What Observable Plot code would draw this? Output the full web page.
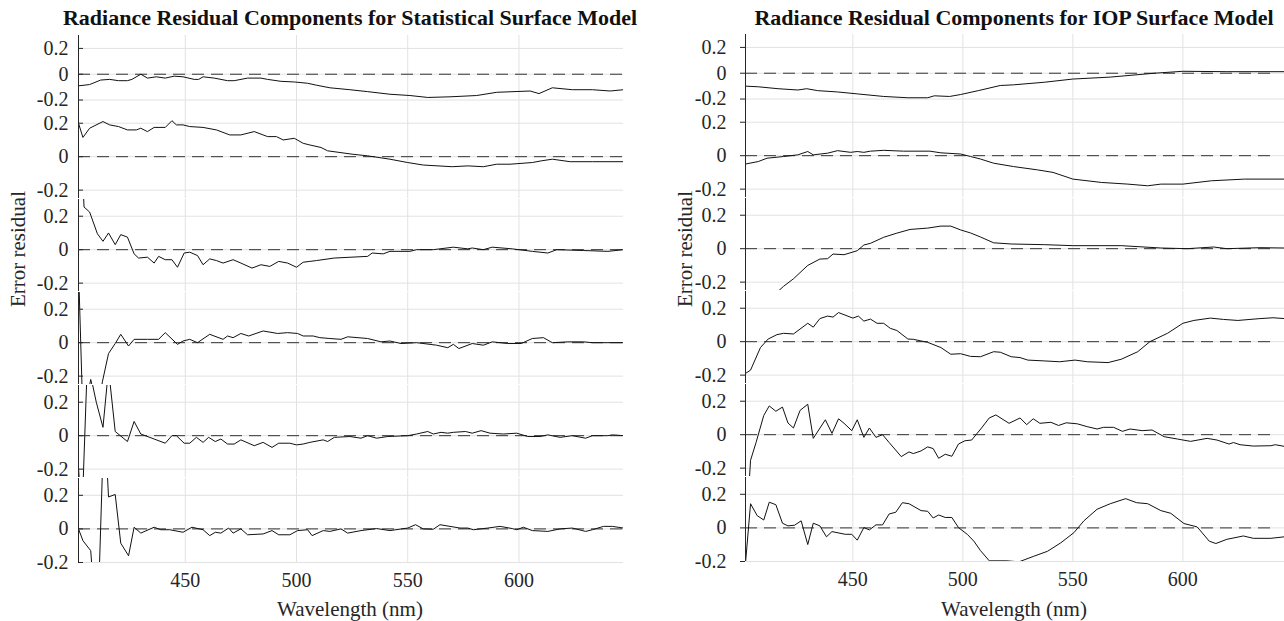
<!DOCTYPE html>
<html><head><meta charset="utf-8">
<script src="https://cdn.jsdelivr.net/npm/d3@7"></script>
<script src="https://cdn.jsdelivr.net/npm/@observablehq/plot@0.6"></script>
<style>
body{margin:0;background:#fff;}
#root{position:relative;width:1284px;height:621px;overflow:hidden;font-family:"Liberation Serif","Times New Roman",serif;color:#262626;}
.lbl{position:absolute;white-space:nowrap;line-height:1;transform:translate(-50%,-50%);}
.title{font-weight:bold;font-size:22px;color:#111;}
.axl{font-size:21px;}
.ylab{transform:translate(-50%,-50%) rotate(-90deg);}
</style>
</head><body><div id="root"></div>
<script>
// ---- data ----
const xTicks = [450, 500, 550, 600];
const yTicks = [-0.2, 0, 0.2];
const statDomain = [402, 647];
const iopDomain = [401.2, 646.2];
const yDomain = [-0.25, 0.3];
const yDomainLast = [-0.2, 0.3];
const statZero = [402, 647];
const iopZero = [401.2, 640.3];
const titles = ["Radiance Residual Components for Statistical Surface Model", "Radiance Residual Components for IOP Surface Model"];
const yLabel = "Error residual";
const xLabel = "Wavelength (nm)";

const stat1 = [[402,-0.09],[407,-0.08],[412,-0.045],[416,-0.04],[420,-0.05],[424,-0.05],[426,-0.04],[430,0.0],[433,-0.03],[437,-0.02],[441,-0.03],[445,-0.015],[449,-0.02],[454,-0.04],[456,-0.04],[458,-0.02],[463,-0.03],[469,-0.05],[472,-0.05],[478,-0.03],[484,-0.03],[487,-0.04],[493,-0.055],[499,-0.06],[505,-0.07],[509,-0.085],[515,-0.105],[524,-0.12],[532,-0.135],[542,-0.155],[551,-0.165],[559,-0.18],[569,-0.175],[581,-0.165],[590,-0.14],[605,-0.13],[609,-0.15],[615,-0.105],[624,-0.12],[633,-0.12],[641,-0.13],[647,-0.12]];
const stat2 = [[402,0.2],[404,0.115],[407,0.17],[413,0.21],[416,0.19],[420,0.18],[424,0.16],[428,0.16],[430,0.17],[433,0.15],[436,0.175],[441,0.175],[444,0.215],[446,0.19],[449,0.19],[452,0.18],[458,0.175],[464,0.16],[470,0.13],[475,0.13],[481,0.15],[487,0.12],[491,0.12],[494,0.1],[499,0.11],[503,0.08],[506,0.07],[511,0.055],[514,0.035],[525,0.015],[532,0.005],[542,-0.015],[550,-0.035],[557,-0.05],[570,-0.06],[577,-0.055],[584,-0.06],[590,-0.045],[596,-0.045],[606,-0.035],[610,-0.025],[615,-0.015],[623,-0.03],[633,-0.03],[647,-0.03]];
const stat3 = [[404,0.4],[404.5,0.255],[407,0.225],[410.5,0.095],[413,0.05],[415.5,0.1],[418.5,0.03],[421,0.09],[424,0.075],[427,-0.025],[429,-0.05],[433,-0.045],[436,-0.08],[438,-0.04],[441,-0.06],[444,-0.06],[446.5,-0.105],[449.5,-0.02],[452,-0.015],[455.5,-0.035],[458,-0.09],[461,-0.055],[464,-0.065],[467,-0.08],[471.5,-0.06],[475,-0.08],[480,-0.11],[484,-0.09],[488,-0.1],[492,-0.07],[496,-0.08],[500,-0.105],[503,-0.075],[506,-0.07],[509,-0.065],[517,-0.05],[532,-0.04],[534,-0.02],[539,-0.025],[542,-0.01],[551,-0.01],[554,0],[561.5,0],[570.5,0.015],[577,0.005],[579,0.01],[584,0],[588,0.015],[597,0.005],[606,-0.01],[613,-0.02],[617,0],[629,-0.005],[640,-0.01],[647,0]];
const stat4 = [[402,0.45],[404,-0.45],[407.5,-0.22],[410.5,-0.4],[412.8,-0.23],[415.5,-0.065],[418.5,-0.005],[421,0.05],[424.5,-0.02],[427,0.02],[433,0.02],[438,0.02],[441,0.06],[446.5,-0.01],[449,0.01],[452,0.02],[455.5,0],[461,0.05],[467,0.02],[469,0.04],[471.5,0.03],[475,0.055],[478.5,0.04],[485,0.07],[491.5,0.055],[496,0.06],[500.5,0.055],[503,0.04],[507.5,0.04],[510.5,0.03],[515,0.025],[520,0.02],[523,0.035],[532,0.025],[538,0.005],[542,0.01],[547,-0.005],[554,0],[563,-0.015],[568,-0.03],[570.5,-0.01],[573,-0.035],[579,-0.005],[584,-0.015],[588,0.005],[595,-0.005],[601,-0.005],[606,0.025],[611,0.03],[615,0],[622,0.005],[629,0.005],[633,0],[640,0],[647,0]];
const stat5 = [[402,-0.19],[403.5,-0.5],[406,0.45],[410,0.2],[413,0.05],[415.5,0.4],[418.5,0.025],[424,-0.035],[427,0.085],[430,0.01],[436,-0.02],[441,-0.045],[444,0],[446,0],[449.5,-0.045],[452,-0.045],[455,-0.01],[458,-0.04],[460.5,-0.01],[463.5,-0.035],[466,-0.02],[469,-0.05],[472,-0.05],[475,-0.025],[481,-0.06],[485,-0.04],[489,-0.07],[492,-0.045],[497,-0.045],[500,-0.055],[503,-0.05],[506,-0.04],[512,-0.025],[514,-0.035],[517,-0.01],[524,-0.005],[529,-0.015],[532,0],[536,-0.015],[541,-0.005],[550,0],[554,0.01],[559,0.025],[561.5,0.01],[565,0.02],[568,0.015],[570.5,0.02],[576,0.025],[579,0.015],[583,0.03],[587,0.015],[593,0.01],[599,0.015],[604,-0.005],[609.5,-0.005],[613,0.005],[618.5,-0.01],[624,0],[630,-0.015],[633,0],[640,0],[642,0.005],[647,0]];
const stat6 = [[402,0],[404,-0.07],[407.5,-0.13],[409,-0.4],[411,-0.4],[413,0.45],[414.5,0.45],[415.5,0.19],[418.5,0.205],[421,-0.085],[424.5,-0.16],[427,0.01],[430,-0.025],[436,0.01],[439,-0.005],[443,-0.005],[449,-0.02],[453,0.01],[458,-0.005],[461,-0.04],[463.5,-0.02],[466,-0.025],[469.5,0.005],[471.5,-0.025],[475,0],[478,-0.035],[485,-0.03],[489,-0.01],[492,-0.035],[497,-0.035],[500.5,-0.01],[505,-0.005],[507,-0.04],[512,-0.01],[515,-0.015],[520,0],[523,-0.025],[529,-0.01],[536,0.002],[542,-0.01],[550,0.005],[553.5,0.025],[557,0],[561.5,-0.002],[564.5,0.025],[569,0.015],[573.5,0.005],[577,0.005],[579.5,-0.005],[586,0.005],[591.5,0.015],[597,0.002],[599,-0.005],[602,0.01],[606,-0.01],[613,-0.015],[618.5,0],[624,0.005],[630,-0.015],[633,-0.005],[638,0.015],[642,0.015],[647,0.005]];

const iop1 = [[401.2,-0.1],[407,-0.105],[416,-0.12],[425,-0.13],[429,-0.12],[434,-0.135],[443,-0.145],[452,-0.16],[464,-0.18],[475,-0.19],[484,-0.19],[487,-0.175],[494,-0.18],[499,-0.165],[507,-0.135],[517,-0.095],[523,-0.09],[537,-0.07],[550,-0.045],[567,-0.03],[587,0],[600,0.015],[620,0.012],[646.2,0.012]];
const iop2 = [[401.2,-0.05],[407,-0.035],[411,-0.015],[418.5,-0.005],[425,0.005],[429.5,0.025],[432,0.005],[438.5,0.015],[443,0.03],[449,0.02],[452,0.025],[455,0.02],[458,0.027],[464,0.032],[473,0.027],[485,0.027],[490,0.017],[499,0.01],[503.5,-0.005],[508,-0.02],[514,-0.045],[523,-0.065],[534,-0.085],[541,-0.1],[550,-0.14],[563,-0.16],[575,-0.17],[584,-0.18],[590,-0.17],[600,-0.17],[613,-0.15],[628,-0.14],[646.2,-0.14]];
const iop3 = [[416,-0.255],[418.5,-0.225],[423,-0.18],[429.5,-0.1],[435,-0.062],[438.5,-0.06],[441,-0.032],[446,-0.036],[452,-0.012],[455,0.022],[458,0.032],[464,0.068],[470,0.093],[476,0.115],[481,0.12],[484,0.123],[490,0.135],[494.5,0.135],[499,0.112],[503.5,0.094],[508,0.07],[514,0.035],[522,0.028],[537,0.024],[550,0.018],[572,0.018],[590,0.004],[602,0],[614,0.01],[620,0],[635,0.006],[646.2,0.004]];
const iop4 = [[401.2,-0.19],[403.5,-0.17],[408,-0.035],[411.5,0.016],[415.5,0.042],[418.5,0.05],[423,0.046],[429.5,0.11],[432,0.087],[435,0.138],[438.5,0.153],[441,0.147],[443.5,0.174],[450,0.141],[452.5,0.153],[455,0.123],[458,0.135],[461,0.11],[464,0.11],[467,0.08],[470,0.067],[475,0.016],[477.5,0.014],[484,-0.004],[490,-0.035],[494.5,-0.075],[499,-0.072],[503.5,-0.088],[508,-0.09],[514,-0.06],[517,-0.063],[522,-0.09],[526,-0.095],[529.5,-0.11],[537,-0.115],[544,-0.12],[551,-0.11],[556.5,-0.12],[566,-0.125],[572,-0.105],[579.5,-0.06],[585,0],[593,0.05],[600,0.11],[605,0.127],[612.5,0.141],[618.5,0.133],[625,0.127],[635,0.138],[641,0.143],[646.2,0.138]];
const iop5 = [[403,-0.26],[403.5,-0.153],[406,-0.047],[409.5,0.115],[412,0.172],[415,0.14],[418,0.165],[420.5,0.07],[423,0.04],[426,0.145],[429.5,0.182],[432,-0.022],[437.5,0.089],[440.5,0.008],[443.5,0.095],[446,0.068],[449.5,0.024],[452,0.089],[455,-0.016],[457.5,0.04],[460.5,-0.016],[463.5,0],[466.5,-0.047],[472,-0.131],[475.5,-0.103],[477.5,-0.113],[481,-0.097],[484,-0.073],[486.5,-0.083],[489,-0.141],[492,-0.117],[495,-0.129],[498,-0.056],[501,-0.036],[504,-0.032],[508.5,0.04],[512,0.1],[515,0.118],[521,0.068],[526,0.1],[529,0.06],[532,0.095],[535,0.068],[540,0.074],[543.5,0.055],[547,0.071],[552,0.065],[556.5,0.048],[561,0.034],[564,0.044],[568.5,0.044],[572.5,0.02],[576,0.034],[581.5,0.024],[586,0.028],[591.5,-0.012],[597.5,-0.026],[603.5,-0.04],[611,-0.022],[615.5,-0.032],[621,-0.056],[623,-0.047],[626,-0.06],[632,-0.068],[640,-0.066],[642,-0.06],[646.2,-0.07]];
const iop6 = [[401.2,-0.21],[403.5,0.144],[406.5,0.073],[409.5,0.047],[412,0.153],[415,0.138],[418,0.028],[420.5,0.012],[423.5,0.016],[426.5,0.042],[429.5,-0.099],[432,0.028],[435,0.012],[438,-0.053],[440.5,-0.022],[446.5,-0.038],[449.5,-0.038],[452,-0.073],[455,0.002],[457.5,-0.012],[460.5,0.018],[463.5,0.018],[466.5,0.083],[469.5,0.093],[472.5,0.15],[475.5,0.144],[481,0.103],[484,0.099],[486.5,0.059],[489,0.077],[492,0.062],[495,0.062],[498,0.002],[502,-0.038],[505,-0.079],[508,-0.135],[512,-0.196],[520,-0.196],[525.5,-0.202],[532,-0.17],[538.5,-0.139],[544.5,-0.089],[550.5,-0.028],[555,0.042],[561,0.111],[567,0.144],[574,0.174],[579,0.15],[584,0.144],[590,0.103],[594.5,0.087],[600.5,0.026],[606.5,0.006],[612,-0.079],[615,-0.093],[620,-0.068],[627.5,-0.048],[632,-0.062],[640,-0.062],[646.2,-0.053]];

// ---- layout ----
const root = document.getElementById("root");
const tops = [35, 106, 199, 292, 385, 478];
const hs = [71, 92, 92, 92, 92, 84];
const fmt = d => d === 0 ? "0" : d.toFixed(1);
const gridColor = "#e2e2e2";
const panels = [
  {series:[stat1,stat2,stat3,stat4,stat5,stat6], xDomain:statDomain, zero:statZero, svgLeft:0, frameLeft:78, frameRight:623, dy:0, tickIn:true, gap:10, title:titles[0], cx:350, ylx:18},
  {series:[iop1,iop2,iop3,iop4,iop5,iop6], xDomain:iopDomain, zero:iopZero, svgLeft:667, frameLeft:745, frameRight:1284, dy:-1, tickIn:false, gap:19, title:titles[1], cx:1014, ylx:685}
];

function addLabel(text, cls, x, y) {
  const d = document.createElement("div");
  d.className = "lbl " + cls;
  d.textContent = text;
  d.style.left = x + "px";
  d.style.top = y + "px";
  root.appendChild(d);
}

panels.forEach(p => {
  p.series.forEach((s, i) => {
    const last = i === 5;
    const mb = last ? 40 : 0;
    const chart = Plot.plot({
      width: p.frameRight - p.svgLeft,
      height: hs[i] + mb,
      marginLeft: p.frameLeft - p.svgLeft,
      marginRight: 0, marginTop: 0, marginBottom: mb,
      x: {domain: p.xDomain, label: null, axis: last ? "bottom" : null, ticks: xTicks, tickSize: 0, tickPadding: 10},
      y: {domain: last ? yDomainLast : yDomain, label: null, axis: null},
      style: {fontFamily: '"Liberation Serif","Times New Roman",serif', fontSize: "20px", color: "#262626", background: "transparent", overflow: "visible"},
      marks: [
        Plot.gridX(xTicks, {stroke: gridColor, strokeOpacity: 1}),
        Plot.gridY(yTicks, {stroke: gridColor, strokeOpacity: 1}),
        Plot.ruleY([0], {x1: p.zero[0], x2: p.zero[1], stroke: "#333", strokeWidth: 1, strokeDasharray: "12,7"}),
        Plot.line(s, {stroke: "#111", strokeWidth: 1, clip: true}),
        Plot.ruleX([p.xDomain[0]], {stroke: "#262626", strokeWidth: 1}),
        Plot.axisY(yTicks, {tickSize: 0, tickPadding: p.gap, tickFormat: fmt, label: null, fill: "#262626"}),
        Plot.axisY(yTicks, {tickSize: 5, dx: p.tickIn ? 5 : 0, tickFormat: () => "", label: null, stroke: "#262626"})
      ]
    });
    chart.style.position = "absolute";
    chart.style.left = p.svgLeft + "px";
    chart.style.top = (tops[i] + p.dy) + "px";
    root.appendChild(chart);
  });
  addLabel(p.title, "title", p.cx, 18);
  addLabel(yLabel, "axl ylab", p.ylx, 249);
  addLabel(xLabel, "axl", p.cx, 609);
});
</script></body></html>
